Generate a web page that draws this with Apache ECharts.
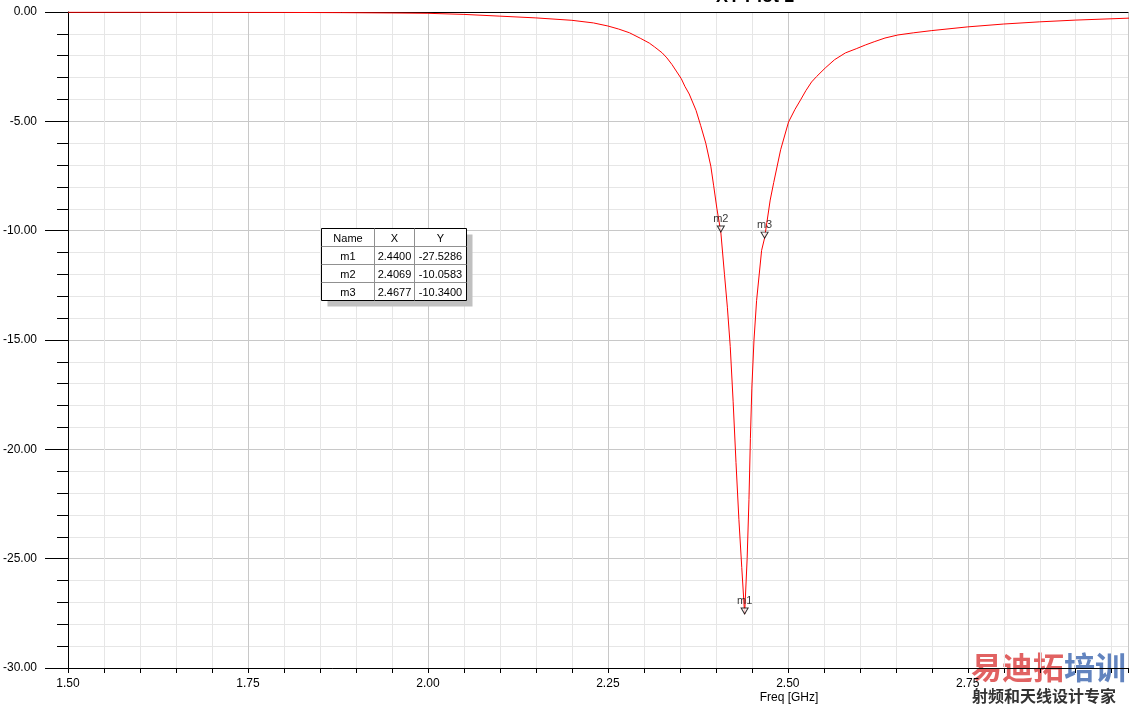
<!DOCTYPE html>
<html>
<head>
<meta charset="utf-8">
<script src="https://cdn.jsdelivr.net/npm/echarts@6/dist/echarts.min.js"></script>
<style>
  html, body { margin: 0; padding: 0; background: #fff; }
  #chart { width: 1131px; height: 711px; }
</style>
</head>
<body>
<div id="chart"></div>
<script>
// S11 trace (Freq in GHz, dB)
const freq = [1.50, 1.60, 1.70, 1.80, 1.88, 1.95, 2.00, 2.05, 2.10, 2.15, 2.20, 2.23, 2.25, 2.265, 2.28,
  2.295, 2.3075, 2.315, 2.3255, 2.332, 2.339, 2.345, 2.352, 2.357, 2.363, 2.3725, 2.379, 2.386, 2.393,
  2.397, 2.4015, 2.4069, 2.412, 2.416, 2.420, 2.424, 2.428, 2.432, 2.436, 2.440, 2.4435, 2.446, 2.448,
  2.450, 2.453, 2.4566, 2.4636, 2.4677, 2.4755, 2.4804, 2.490, 2.501, 2.51, 2.5177, 2.525, 2.533, 2.54,
  2.552, 2.565, 2.580, 2.595, 2.6076, 2.62, 2.635, 2.653, 2.675, 2.70, 2.75, 2.80, 2.85, 2.90, 2.975];
const s11 = [-0.01, -0.01, -0.015, -0.02, -0.03, -0.045, -0.06, -0.11, -0.19, -0.27, -0.38, -0.5, -0.64, -0.78, -0.95,
  -1.2, -1.42, -1.6, -1.87, -2.1, -2.4, -2.7, -3.05, -3.4, -3.75, -4.5, -5.2, -6.0, -7.05,
  -7.95, -9.0, -10.06, -12.0, -13.5, -15.3, -17.8, -20.6, -23.2, -25.4, -27.53, -25.0, -22.3, -19.5,
  -17.2, -15.0, -13.2, -10.9, -10.34, -8.6, -7.8, -6.3, -5.03, -4.45, -4.02, -3.6, -3.2, -2.95,
  -2.56, -2.18, -1.87, -1.68, -1.51, -1.36, -1.19, -1.05, -0.95, -0.85, -0.68, -0.55, -0.45, -0.37, -0.28];

const markerName = ["m1", "m2", "m3"];
const markerX = [2.4400, 2.4069, 2.4677];
const markerY = [-27.5286, -10.0583, -10.3400];

const xTicks = [1.50, 1.75, 2.00, 2.25, 2.50, 2.75];
const yTicks = [0, -5, -10, -15, -20, -25, -30];

const chart = echarts.init(document.getElementById("chart"));

// marker table
const colW = [53, 40, 52];
const rowH = 18;
const tx = 321.5, ty = 228.5;
const rows = [["Name", "X", "Y"]].concat(
  markerName.map((n, i) => [n, markerX[i].toFixed(4), markerY[i].toFixed(4)])
);
const tableW = colW.reduce((a, b) => a + b, 0);
const tableH = rows.length * rowH;
const table = [
  { type: "rect", z: 10, shape: { x: tx + 6, y: ty + 6, width: tableW, height: tableH }, style: { fill: "#c0c0c0" } },
  { type: "rect", z: 11, shape: { x: tx, y: ty, width: tableW, height: tableH }, style: { fill: "#fff", stroke: "#000", lineWidth: 1 } }
];
rows.forEach((r, ri) => {
  if (ri > 0) {
    table.push({ type: "line", z: 12, shape: { x1: tx, y1: ty + ri * rowH, x2: tx + tableW, y2: ty + ri * rowH }, style: { stroke: "#909090", lineWidth: 1 } });
  }
});
let vx = tx;
colW.slice(0, -1).forEach((w) => {
  vx += w;
  table.push({ type: "line", z: 12, shape: { x1: vx, y1: ty, x2: vx, y2: ty + tableH }, style: { stroke: "#909090", lineWidth: 1 } });
});
rows.forEach((r, ri) => {
  let cx = tx;
  r.forEach((txt, ci) => {
    table.push({
      type: "text", z: 13,
      x: cx + colW[ci] / 2, y: ty + ri * rowH + rowH / 2 + 1,
      style: { text: txt, font: "11px 'Liberation Sans', Arial, sans-serif", fill: "#000", align: "center", verticalAlign: "middle" }
    });
    cx += colW[ci];
  });
});

const option = {
  animation: false,
  grid: { left: 66, top: 12, right: 0, bottom: 43 },
  xAxis: [
    {
      type: "value",
      min: 1.5,
      max: 2.9726,
      interval: 0.25,
      axisLine: { show: true, onZero: false, lineStyle: { color: "#000", width: 1 } },
      axisTick: { show: true, length: 5, lineStyle: { color: "#000" } },
      minorTick: { show: true, splitNumber: 5, length: 5, lineStyle: { color: "#000" } },
      axisLabel: {
        margin: 10, color: "#000", fontSize: 12, fontFamily: "Liberation Sans",
        formatter: (v) => (xTicks.some((t) => Math.abs(t - v) < 1e-6) ? v.toFixed(2) : "")
      },
      splitLine: { show: true, lineStyle: { color: "#c8c8c8", width: 1 } },
      minorSplitLine: { show: true, lineStyle: { color: "#e6e6e6", width: 1 } }
    },
    {
      type: "value",
      position: "top",
      min: 1.5,
      max: 2.9726,
      axisLine: { show: true, onZero: false, lineStyle: { color: "#000", width: 1 } },
      axisTick: { show: false },
      axisLabel: { show: false },
      splitLine: { show: false }
    }
  ],
  yAxis: {
    type: "value",
    min: -30,
    max: 0,
    interval: 5,
    axisLine: { show: true, onZero: false, lineStyle: { color: "#000", width: 1 } },
    axisTick: { show: true, length: 23, lineStyle: { color: "#000" } },
    minorTick: { show: true, splitNumber: 5, length: 11, lineStyle: { color: "#000" } },
    axisLabel: {
      margin: 31, color: "#000", fontSize: 12, fontFamily: "Liberation Sans",
      formatter: (v) => (yTicks.indexOf(v) >= 0 ? v.toFixed(2) : "")
    },
    splitLine: { show: true, lineStyle: { color: "#c8c8c8", width: 1 } },
    minorSplitLine: { show: true, lineStyle: { color: "#e6e6e6", width: 1 } }
  },
  series: [
    {
      type: "line",
      data: freq.map((f, i) => [f, s11[i]]),
      showSymbol: false,
      lineStyle: { color: "#ff0000", width: 1 },
      z: 3
    },
    {
      type: "scatter",
      data: markerX.map((x, i) => ({ value: [x, markerY[i]], name: markerName[i] })),
      symbol: "triangle",
      symbolRotate: 180,
      symbolSize: [7, 6],
      symbolOffset: [0, -3],
      itemStyle: { color: "#fff", borderColor: "#000", borderWidth: 1 },
      label: {
        show: true, position: "top", distance: 1, formatter: "{b}",
        color: "#000", fontSize: 11, fontFamily: "Liberation Sans"
      },
      z: 4
    }
  ],
  graphic: [
    {
      type: "text", x: 755, y: 6,
      style: { text: "XY Plot 1", font: "bold 18px 'Liberation Sans', Arial, sans-serif", fill: "#000", align: "center", verticalAlign: "bottom" }
    },
    {
      type: "text", x: 789, y: 698,
      style: { text: "Freq [GHz]", font: "12px 'Liberation Sans', Arial, sans-serif", fill: "#000", align: "center", verticalAlign: "middle" }
    },
    {
      type: "text", x: 971, y: 667,
      style: {
        text: "{r|易迪拓}{b|培训}",
        verticalAlign: "middle",
        rich: {
          r: { font: "bold 31px 'Noto Sans CJK SC'", fill: "rgba(220,70,70,0.85)" },
          b: { font: "bold 31px 'Noto Sans CJK SC'", fill: "rgba(70,110,180,0.85)" }
        }
      }
    },
    {
      type: "text", x: 972, y: 696,
      style: { text: "射频和天线设计专家", font: "bold 16px 'Noto Sans CJK SC'", fill: "#333", verticalAlign: "middle" }
    }
  ].concat(table)
};
chart.setOption(option);
</script>
</body>
</html>
